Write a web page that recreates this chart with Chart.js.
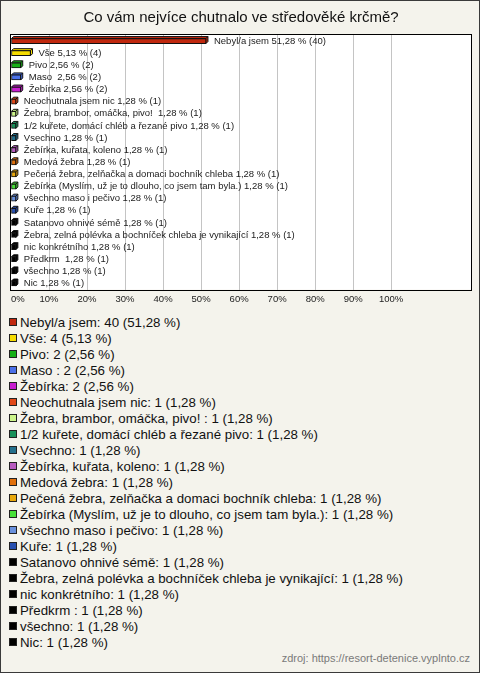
<!DOCTYPE html>
<html>
<head>
<meta charset="utf-8">
<script src="https://cdn.jsdelivr.net/npm/chart.js@4/dist/chart.umd.min.js"></script>
<style>
  html, body { margin: 0; padding: 0; }
  body { width: 480px; height: 673px; background: #f4f3ec; font-family: Arial, "Liberation Sans", sans-serif; position: relative; overflow: hidden; }
  #frame { position: absolute; left: 0; top: 0; width: 478px; height: 671px; border: 1px solid #3a3a3a; pointer-events: none; }
  #wrap { position: absolute; left: 0; top: 0; width: 480px; height: 310px; }
  #legend { position: absolute; left: 9px; top: 314px; font-size: 13.3px; color: #111; }
  .item { display: flex; align-items: center; height: 16px; white-space: pre; }
  .box { width: 6px; height: 6px; border: 1px solid #222; margin-right: 3px; flex: none; }
  #zdroj { position: absolute; right: 10px; top: 652px; font-size: 11px; color: #7a7a7a; }
</style>
</head>
<body>
<div id="wrap"><canvas id="chart" width="480" height="310"></canvas></div>
<div id="legend"></div>
<div id="zdroj">zdroj: https://resort-detenice.vyplnto.cz</div>
<div id="frame"></div>
<script>
const nadpis = 'Co vám nejvíce chutnalo ve středověké krčmě?';

const kategorie = [
    'Nebyl/a jsem', 'Vše', 'Pivo', 'Maso ', 'Žebírka', 'Neochutnala jsem nic',
    'Žebra, brambor, omáčka, pivo! ', '1/2 kuřete, domácí chléb a řezané pivo', 'Vsechno',
    'Žebírka, kuřata, koleno', 'Medová žebra', 'Pečená žebra, zelňačka a domaci bochník chleba',
    'Žebírka (Myslím, už je to dlouho, co jsem tam byla.)', 'všechno maso i pečivo', 'Kuře',
    'Satanovo ohnivé sémě', 'Žebra, zelná polévka a bochníček chleba je vynikající',
    'nic konkrétního', 'Předkrm ', 'všechno', 'Nic'
];
const pocty = [40, 4, 2, 2, 2, 1, 1, 1, 1, 1, 1, 1, 1, 1, 1, 1, 1, 1, 1, 1, 1];
const procenta = [51.28, 5.13, 2.56, 2.56, 2.56, 1.28, 1.28, 1.28, 1.28, 1.28, 1.28, 1.28, 1.28, 1.28, 1.28, 1.28, 1.28, 1.28, 1.28, 1.28, 1.28];
const barvy = [
    '#c0280e', '#f5dc00', '#16b016', '#4a70e8', '#c81ed0', '#e04818',
    '#ccf58a', '#18905a', '#24708c', '#b85cc0', '#e0700c', '#e8a80c',
    '#48e038', '#6890dc', '#2850b0', '#000000', '#000000', '#000000',
    '#000000', '#000000', '#000000'
];
// posledni dva ticky jsou jen kvuli zarovnani, nemaji popisek ani mrizku
const osaTicky = [0, 10, 20, 30, 40, 50, 60, 70, 80, 90, 100, 110, 120];

const pismo = 'Arial, "Liberation Sans", sans-serif';
const hloubka = 2; // 3D posun sloupce

function fmt(v) {
    return v.toFixed(2).replace('.', ',');
}

// legenda pod grafem
const legendDiv = document.getElementById('legend');
kategorie.forEach(function(k, i) {
    const row = document.createElement('div');
    row.className = 'item';
    const box = document.createElement('span');
    box.className = 'box';
    box.style.background = barvy[i];
    const txt = document.createElement('span');
    txt.textContent = k + ': ' + pocty[i] + ' (' + fmt(procenta[i]) + ' %)';
    row.appendChild(box);
    row.appendChild(txt);
    legendDiv.appendChild(row);
});

// bila plocha grafu + ramecek
const plocha = {
    id: 'plocha',
    beforeDraw(chart) {
        const a = chart.chartArea, c = chart.ctx;
        c.save();
        c.fillStyle = '#ffffff';
        c.fillRect(a.left, a.top, a.right - a.left, a.bottom - a.top);
        c.restore();
    },
    afterDraw(chart) {
        const a = chart.chartArea, c = chart.ctx;
        c.save();
        c.strokeStyle = '#000';
        c.lineWidth = 1;
        c.strokeRect(Math.round(a.left) - 0.5, Math.round(a.top) - 0.5,
            Math.round(a.right - a.left) + 1, Math.round(a.bottom - a.top) + 1);
        c.restore();
    }
};

// 3D hrana sloupcu a popisky vedle nich
const sloupce3d = {
    id: 'sloupce3d',
    beforeDatasetsDraw(chart) {
        const c = chart.ctx;
        const meta = chart.getDatasetMeta(0);
        c.save();
        meta.data.forEach(function(bar, i) {
            const L = bar.base, R = bar.x;
            const T = bar.y - bar.height / 2, B = bar.y + bar.height / 2;
            c.beginPath();
            c.moveTo(L, T);
            c.lineTo(L + hloubka, T - hloubka);
            c.lineTo(R + hloubka, T - hloubka);
            c.lineTo(R + hloubka, B - hloubka);
            c.lineTo(R, B);
            c.lineTo(R, T);
            c.closePath();
            c.fillStyle = barvy[i];
            c.fill();
            c.strokeStyle = '#111';
            c.lineWidth = 1;
            c.stroke();
            c.beginPath();
            c.moveTo(R, T);
            c.lineTo(R + hloubka, T - hloubka);
            c.stroke();
        });
        c.restore();
    },
    afterDatasetsDraw(chart) {
        const c = chart.ctx;
        const meta = chart.getDatasetMeta(0);
        c.save();
        c.font = '9.5px ' + pismo;
        c.fillStyle = '#222';
        c.textBaseline = 'middle';
        c.textAlign = 'left';
        meta.data.forEach(function(bar, i) {
            const t = kategorie[i] + ' ' + fmt(procenta[i]) + ' % (' + pocty[i] + ')';
            c.fillText(t, bar.x + hloubka + 6, bar.y);
        });
        c.restore();
    }
};

new Chart(document.getElementById('chart'), {
    type: 'bar',
    data: {
        labels: kategorie,
        datasets: [{
            data: procenta,
            backgroundColor: barvy,
            borderColor: '#111',
            borderWidth: 1,
            borderSkipped: false,
            barThickness: 5
        }]
    },
    options: {
        indexAxis: 'y',
        responsive: false,
        animation: false,
        layout: { padding: { left: 11, right: 9, top: 0, bottom: 1 } },
        plugins: {
            legend: { display: false },
            tooltip: { enabled: false },
            title: {
                display: true,
                text: nadpis,
                color: '#111',
                font: { size: 15, family: pismo, weight: 'normal' },
                padding: { top: 8.5, bottom: 8.5 }
            }
        },
        scales: {
            x: {
                min: 0,
                max: 121,
                afterBuildTicks(scale) {
                    scale.ticks = osaTicky.map(v => ({ value: v }));
                },
                ticks: {
                    align: 'inner',
                    autoSkip: false,
                    maxRotation: 0,
                    padding: 4,
                    color: '#222',
                    font: { size: 9.5, family: pismo },
                    callback: v => v <= 100 ? v + '%' : ''
                },
                grid: {
                    drawTicks: false,
                    color: ctx => (ctx.tick && ctx.tick.value > 0 && ctx.tick.value <= 100) ? '#c4c4c4' : 'rgba(0,0,0,0)'
                },
                border: { display: false }
            },
            y: { display: false }
        }
    },
    plugins: [plocha, sloupce3d]
});
</script>
</body>
</html>
